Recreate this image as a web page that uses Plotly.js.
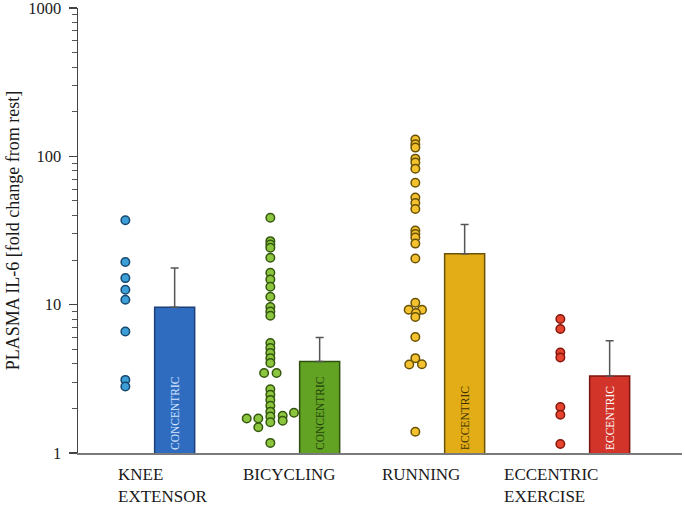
<!DOCTYPE html>
<html>
<head>
<meta charset="utf-8">
<script src="https://cdn.plot.ly/plotly-3.0.1.min.js"></script>
<style>html,body{margin:0;padding:0;background:#fff;}#chart{width:685px;height:507px;}</style>
</head>
<body>
<div id="chart"></div>
<script>
// ---- data ----
const categories = ["KNEE<br>EXTENSOR", "BICYCLING", "RUNNING", "ECCENTRIC<br>EXERCISE"];
const barLabels = ["CONCENTRIC", "CONCENTRIC", "ECCENTRIC", "ECCENTRIC"];
const barMeans = [9.6, 4.14, 22.0, 3.31];
const barErrorTop = [17.7, 6.01, 34.7, 5.71];

const kneeValues = [37.1, 19.4, 15.1, 12.6, 10.8, 6.6, 3.11, 2.81];
const kneeJitter = [0, 0, 0, 0, 0, 0, 0, 0];

const bicyclingValues = [38.5, 26.8, 25.4, 24.2, 20.7, 16.4, 14.8, 13.2, 11.3, 9.65, 9.0, 8.43,
  5.51, 5.10, 4.72, 4.36, 4.04, 3.46, 3.46, 2.69, 2.47, 2.28, 2.08, 1.90, 1.76, 1.61,
  1.71, 1.71, 1.49, 1.78, 1.65, 1.87, 1.17];
const bicyclingJitter = [0, 0, 0, 0, 0, 0, 0, 0, 0, 0, 0, 0,
  0, 0, 0, 0, 0, -0.043, 0.043, 0, 0, 0, 0, 0, 0, 0,
  -0.163, -0.083, -0.083, 0.085, 0.085, 0.163, 0];

const runningValues = [130, 120.6, 114.5, 96.5, 90.7, 82.6, 66.4, 52.8, 48.5, 44.2, 31.6, 29.9, 28.4, 25.8, 20.5,
  10.3, 9.25, 9.25, 8.79, 8.26, 6.05, 4.36, 3.95, 3.97, 1.39];
const runningJitter = [0, 0, 0, 0, 0, 0, 0, 0, 0, 0, 0, 0, 0, 0, 0,
  0, -0.046, 0.046, 0.004, 0, 0, 0, -0.042, 0.045, 0];

const eccentricValues = [8.0, 6.85, 4.76, 4.40, 2.04, 1.81, 1.15];
const eccentricJitter = [0, 0, 0, 0, 0, 0, 0];

// ---- styles ----
const dotFill = ["#3c9fd8", "#8cc63e", "#f4c22e", "#e6442f"];
const dotLine = ["#17486e", "#345710", "#6a5205", "#85170c"];
const barFill = ["#2f6cc0", "#62a323", "#e2ad16", "#d2342a"];
const barLine = ["#1c3f78", "#2e5110", "#6b5208", "#7a1610"];
const barText = ["#d4e6ff", "#23420a", "#3f3200", "#ffffff"];
const dotSeries = [
  [kneeValues, kneeJitter],
  [bicyclingValues, bicyclingJitter],
  [runningValues, runningJitter],
  [eccentricValues, eccentricJitter]
];
const DOT_SHIFT = -0.17, BAR_SHIFT = 0.17;
const serif = "Liberation Serif, Times New Roman, serif";

const traces = [];
dotSeries.forEach((s, i) => {
  traces.push({
    type: "scatter", mode: "markers", cliponaxis: false,
    x: s[0].map((v, k) => i + DOT_SHIFT + s[1][k]),
    y: s[0],
    marker: {size: 8.5, color: dotFill[i], line: {color: dotLine[i], width: 1.5}},
    hoverinfo: "y", showlegend: false
  });
});

traces.push({
  type: "bar",
  x: categories.map((c, i) => i + BAR_SHIFT),
  y: barMeans,
  width: 0.276,
  marker: {color: barFill, line: {color: barLine, width: 1.5}},
  text: barLabels,
  textposition: "inside",
  insidetextanchor: "start",
  textangle: -90,
  constraintext: "none",
  textfont: {family: serif, size: 11.5, color: barText},
  error_y: {type: "data", symmetric: false,
    array: barErrorTop.map((t, i) => t - barMeans[i]),
    arrayminus: barMeans.map(() => 0),
    color: "#555555", thickness: 1.5, width: 4},
  showlegend: false, hoverinfo: "y"
});

const labelOffsets = [-0.22, -0.36, -0.40, -0.56];
const annotations = categories.map((c, i) => ({
  x: i + labelOffsets[i] - 0.012, y: 0, xref: "x", yref: "paper",
  yanchor: "top", xanchor: "left", align: "left",
  yshift: -10, text: c, showarrow: false,
  font: {family: serif, size: 17, color: "#1a1a1a"}
}));

const layout = {
  width: 685, height: 507,
  margin: {l: 78, r: 3, t: 8, b: 54},
  paper_bgcolor: "#ffffff", plot_bgcolor: "#ffffff",
  bargap: 0,
  xaxis: {
    range: [-0.4966, 3.669], showgrid: false, zeroline: false,
    showticklabels: false, ticks: "", showline: true,
    linecolor: "#7a7a7a", linewidth: 1.5, fixedrange: true
  },
  yaxis: {
    type: "log", range: [0, 3], showgrid: false, zeroline: false,
    tickmode: "linear", tick0: 0, dtick: 1,
    ticks: "outside", ticklen: 8, tickwidth: 1.2, tickcolor: "#444",
    showline: true, linecolor: "#444", linewidth: 1.5,
    ticklabeloverflow: "allow",
    minor: {ticks: "outside", ticklen: 5, tickwidth: 1, tickcolor: "#555", dtick: "D1", showgrid: false},
    tickfont: {family: serif, size: 16.5, color: "#1a1a1a"},
    ticklabelstandoff: 4,
    title: {text: "PLASMA IL-6 [fold change from rest]", font: {family: serif, size: 18, color: "#1a1a1a"}, standoff: 4}
  },
  annotations: annotations
};

Plotly.newPlot("chart", traces, layout, {displayModeBar: false, staticPlot: true});
</script>
</body>
</html>
